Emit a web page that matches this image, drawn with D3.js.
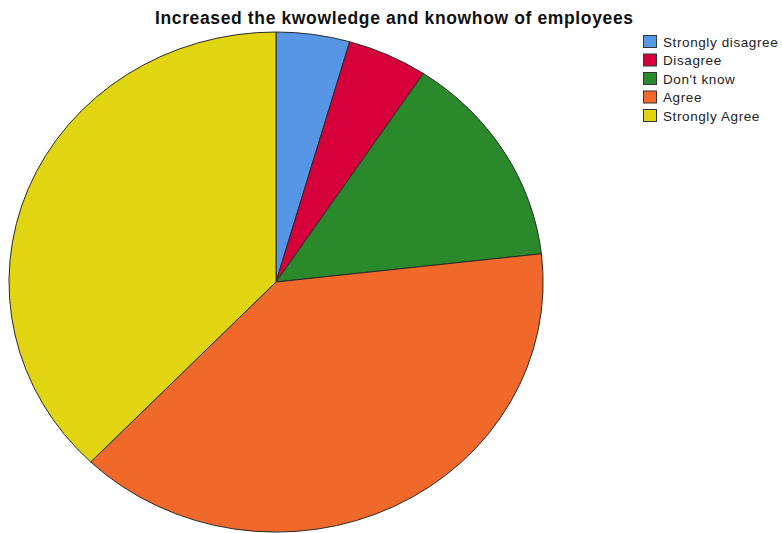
<!DOCTYPE html>
<html>
<head>
<meta charset="utf-8">
<script src="https://cdn.jsdelivr.net/npm/d3@7"></script>
<style>
  html, body { margin: 0; padding: 0; background: #fff; }
  svg { display: block; }
  text { font-family: "Liberation Sans", Arial, sans-serif; }
</style>
</head>
<body>
<svg id="chart" width="782" height="533"></svg>
<script>
// Responses (percent of respondents)
const categories = ["Strongly disagree", "Disagree", "Don't know", "Agree", "Strongly Agree"];
const values = [4.45, 4.85, 13.9, 39.0, 37.8];
const colors = ["#5796e4", "#d6003a", "#2a892a", "#f1692a", "#e1d511"];
const title = "Increased the kwowledge and knowhow of employees";

const svg = d3.select("#chart");

// Title
svg.append("text")
  .attr("x", 394)
  .attr("y", 23.5)
  .attr("text-anchor", "middle")
  .attr("font-size", 17.5)
  .attr("font-weight", "bold")
  .attr("fill", "#111")
  .attr("textLength", 478)
  .attr("lengthAdjust", "spacing")
  .text(title);

// Pie drawn on a unit circle then stretched into an ellipse
const cx = 276, cy = 282, rx = 267, ry = 250;
const pie = d3.pie().sort(null).value(d => d.v);
const arc = d3.arc().innerRadius(0).outerRadius(1);
const data = categories.map((c, i) => ({ c, v: values[i], col: colors[i] }));

const g = svg.append("g")
  .attr("transform", `translate(${cx},${cy}) scale(${rx},${ry})`);

g.selectAll("path")
  .data(pie(data))
  .join("path")
  .attr("d", arc)
  .attr("fill", d => d.data.col)
  .attr("stroke", "#2a2a2a")
  .attr("stroke-width", 1)
  .attr("vector-effect", "non-scaling-stroke");

// Legend
const legend = svg.append("g").attr("transform", "translate(643,35)");
const row = legend.selectAll("g")
  .data(data)
  .join("g")
  .attr("transform", (d, i) => `translate(0,${i * 18.5})`);

row.append("rect")
  .attr("x", 0.5).attr("y", 0.5)
  .attr("width", 13).attr("height", 12)
  .attr("fill", d => d.col)
  .attr("stroke", "#333")
  .attr("stroke-width", 1);

row.append("text")
  .attr("x", 20)
  .attr("y", 11.5)
  .attr("font-size", 13.5)
  .attr("letter-spacing", 0.6)
  .attr("fill", "#222")
  .text(d => d.c);
</script>
</body>
</html>
